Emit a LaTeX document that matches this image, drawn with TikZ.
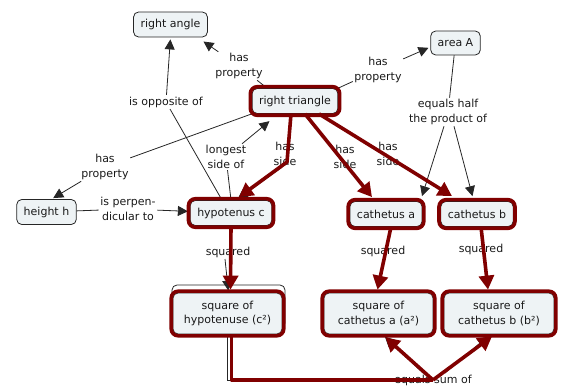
\documentclass[tikz,border=0pt]{standalone}
\usepackage{fontspec}
\setmainfont{DejaVu Sans}
\usetikzlibrary{arrows.meta,fit}
\definecolor{hlred}{RGB}{128,0,0}
\definecolor{conceptfill}{RGB}{238,243,245}
\begin{document}
\begin{tikzpicture}[x=1pt,y=-1pt,
  labelfont/.style={font=\fontsize{11}{14.5}\selectfont, text=black!90},
  concept/.style={labelfont, draw=black!85, line width=0.8pt, rounded corners=5pt,
    fill=conceptfill, inner xsep=7pt, minimum height=25pt, align=center},
  phrase/.style={labelfont, align=center, inner sep=1.5pt},
  frame/.style={draw=hlred, line width=3.6pt, rounded corners=7pt, inner sep=1.4pt},
  link/.style={draw=black!85, line width=0.8pt},
  linkarrow/.style={link, shorten >=2pt, -{Triangle[length=10pt,width=10pt]}},
  hl/.style={draw=hlred, line width=3.6pt, line join=round},
  hlarrow/.style={hl, -{Triangle[length=14pt,width=15pt]}}
]
\useasboundingbox (0,0) rectangle (568,390);

% concepts
\node[concept] (ra) at (170.5,24.5) {right angle};
\node[concept, minimum height=24pt] (area) at (455.5,43) {area A};
\node[concept] (rt) at (295,101) {right triangle};
\node[concept] (hh) at (46.5,212) {height h};
\node[concept] (hyp) at (231,213) {hypotenus c};
\node[concept] (ca) at (386,214) {cathetus a};
\node[concept] (cb) at (477,214) {cathetus b};
\draw[black!85, line width=0.8pt, rounded corners=5pt]
  (172,285) rectangle (285,328);
\node[concept, minimum height=41pt, minimum width=109pt] (sc) at (227.5,313.5) {square of\\hypotenuse (c²)};
\node[concept, minimum height=41pt, minimum width=109pt] (sa) at (378.5,313.5) {square of\\cathetus a (a²)};
\node[concept, minimum height=41pt, minimum width=110pt] (sb) at (499,313.5) {square of\\cathetus b (b²)};

% linking phrases
\node[phrase] (p1) at (239,66) {has\\property};
\node[phrase] (p2) at (378,70) {has\\property};
\node[phrase] (p3) at (166,102) {is opposite of};
\node[phrase] (p4) at (448,112) {equals half\\the product of};
\node[phrase] (p5) at (226,157) {longest\\side of};
\node[phrase] (p6) at (285,154) {has\\side};
\node[phrase] (p7) at (345,157) {has\\side};
\node[phrase] (p8) at (388,154) {has\\side};
\node[phrase] (p9) at (105,167) {has\\property};
\node[phrase] (p10) at (128,209) {is perpen-\\dicular to};
\node[phrase] (p11) at (228,252) {squared};
\node[phrase] (p12) at (383,251) {squared};
\node[phrase] (p13) at (481,249) {squared};
\node[phrase] (p14) at (433,380) {equals sum of};

% plain propositions
\draw[link] ([xshift=-28pt]rt.north) -- (p1);
\draw[linkarrow] (p1) -- ([shift={(-6,3)}]ra.south east);
\draw[link] (rt.north east) -- (p2);
\draw[linkarrow] (p2) -- ([shift={(0,4)}]area.west);
\draw[link] ([xshift=-9pt]hyp.north) -- (p3);
\draw[linkarrow] (p3) -- (ra.south);
\draw[link] (hyp.north) -- (p5);
\draw[linkarrow] (p5) -- ([shift={(-24,6)}]rt.south);
\draw[link] (rt.south west) -- (p9);
\draw[linkarrow] (p9) -- ([xshift=5pt]hh.north);
\draw[link] (hh) -- (p10);
\draw[linkarrow] (p10) -- (hyp);
\draw[link] (area) -- (p4);
\draw[linkarrow] ([xshift=-4pt]p4.south) -- ([shift={(-1,-3)}]ca.north east);
\draw[linkarrow] ([xshift=6pt]p4.south) -- ([shift={(-4,-3)}]cb.north);

% thin lines under the highlighted path
\draw[linkarrow] ([xshift=-3pt]p6.south) -- ([xshift=5pt]hyp.north);
\draw[linkarrow] ([xshift=-3pt]p11.south) -- ([xshift=1pt]sc.north);
\draw[link] (sc.south) |- (p14);
\draw[linkarrow] ([xshift=-10pt]p14.north) -- ([shift={(5,1)}]sa.south);
\draw[linkarrow] ([xshift=12pt]p14.north) -- ([shift={(-10,1)}]sb.south);

% highlighted path
\draw[hlarrow] ([xshift=-4pt]rt.south) -- ([shift={(2,8)}]p6.center) -- ([shift={(8,-3)}]hyp.north);
\draw[hlarrow] ([xshift=10pt]rt.south) -- ([shift={(-14,-4)}]ca.north);
\draw[hlarrow] ([xshift=24pt]rt.south) -- ([shift={(-25,-5)}]cb.north);
\draw[hlarrow] (hyp.south) -- ([shift={(3,-3)}]sc.north);
\draw[hlarrow] ([xshift=5pt]ca.south) -- ([shift={(-1,-3)}]sa.north);
\draw[hlarrow] ([xshift=4pt]cb.south) -- ([shift={(-11,-3)}]sb.north);
\draw[hl] ([xshift=4pt]sc.south) |- (p14.center);
\draw[hlarrow] (p14.center) -- ([shift={(7,3)}]sa.south);
\draw[hlarrow] (p14.center) -- ([shift={(-7,2)}]sb.south);

% highlight frames
\foreach \n in {rt,hyp,ca,cb,sc,sa,sb}
  \node[frame, fit=(\n)] {};
\end{tikzpicture}
\end{document}
